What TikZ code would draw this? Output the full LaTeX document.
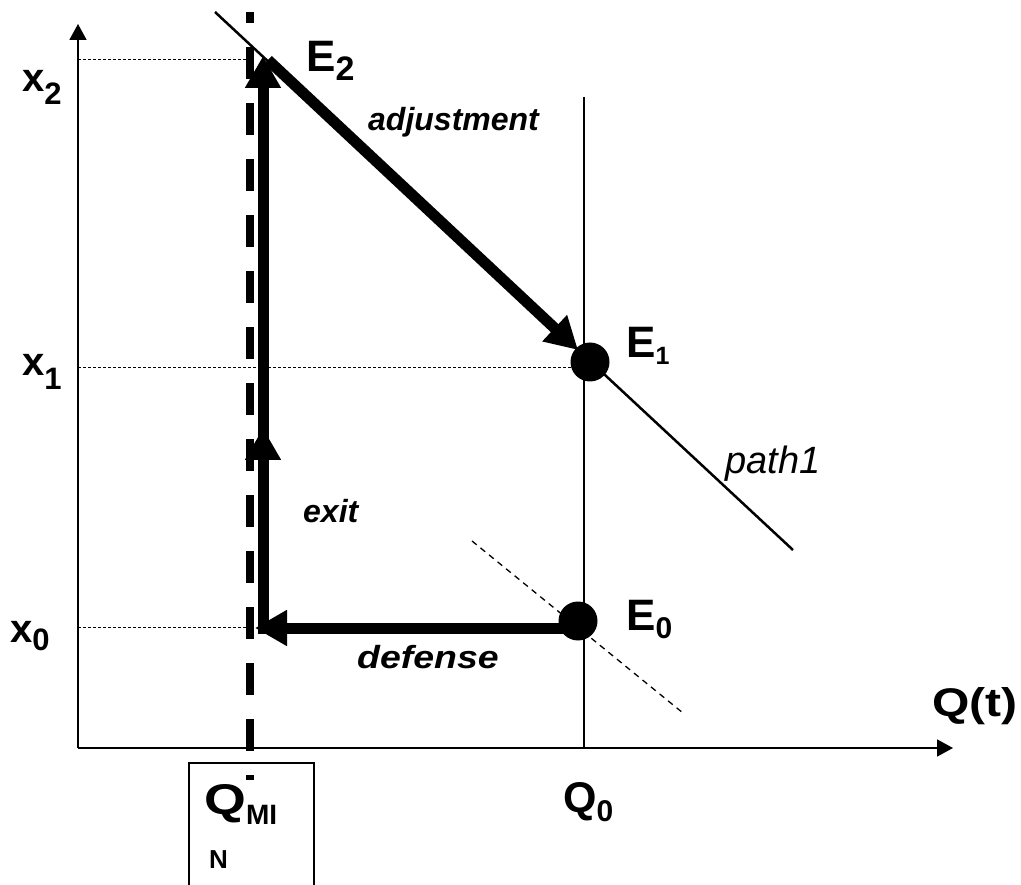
\documentclass[tikz,border=0pt]{standalone}
\usepackage{fontspec}
\setmainfont{Liberation Sans}
\usetikzlibrary{arrows.meta}
% \lowsub{drop}{size}{text}
\newcommand\lowsub[3]{\raisebox{-#1pt}{\fontsize{#2}{#2}\selectfont #3}}
\newcommand\widen[2]{\scalebox{#1}[1]{#2}}
\tikzset{
 lbl/.style={inner sep=0pt, anchor=base west, font=\fontsize{40}{44}\selectfont\bfseries},
 elbl/.style={inner sep=0pt, anchor=base west, font=\fontsize{44}{48}\selectfont\bfseries},
 ital/.style={inner sep=0pt, anchor=base west, font=\fontsize{32}{36}\selectfont\bfseries\itshape},
 plainital/.style={inner sep=0pt, anchor=base west, font=\fontsize{36}{40}\selectfont\itshape},
 axis/.style={line width=1.8pt, -{Triangle[length=16pt,width=17pt]}},
 guide/.style={line width=1pt, dash pattern=on 3pt off 2pt},
 thickarrow/.style={line width=11pt, -{Triangle[length=32pt,width=34pt]}},
 dot/.style={circle, fill=black, minimum size=39pt, inner sep=0pt},
 thinline/.style={line width=2.5pt},
}
\begin{document}
\begin{tikzpicture}[x=1pt,y=-1pt]
\useasboundingbox (0,0) rectangle (1021,885);
% coordinates
\coordinate (O) at (78,748);
\coordinate (ytop) at (78,24);
\coordinate (xend) at (953,748);
\coordinate (x2y) at (78,60);
\coordinate (x1y) at (78,368);
\coordinate (x0y) at (78,627);
\coordinate (m2) at (250,60);
\coordinate (m1) at (575,368);
\coordinate (m0) at (250,627);
\coordinate (qtop) at (584,97);
\coordinate (qbot) at (584,748);
\coordinate (dtop) at (250,12);
\coordinate (dbot) at (250,780);
\coordinate (ptop) at (215,12);
\coordinate (pbot) at (793,550);
\coordinate (ntop) at (472,541);
\coordinate (nbot) at (683,713);
\coordinate (defStart) at (578,628);
\coordinate (defEnd) at (255,628);
\coordinate (exStart) at (263,634);
\coordinate (exMid) at (263,428);
\coordinate (exMid2) at (263,445);
\coordinate (exEnd) at (263,56);
\coordinate (adjStart) at (268,60);
\coordinate (adjEnd) at (578,350);
% guides
\draw[guide] (x2y) -- (m2);
\draw[guide] (x1y) -- (m1);
\draw[guide] (x0y) -- (m0);
% axes
\draw[axis] (O) -- (ytop);
\draw[axis] (O) -- (xend);
% thin vertical at Q0
\draw[line width=1.6pt] (qtop) -- (qbot);
% path line
\draw[thinline] (ptop) -- (pbot);
% dashed line through E0
\draw[line width=1.3pt, dash pattern=on 6pt off 5pt] (ntop) -- (nbot);
% Q_MIN dashed vertical
\draw[line width=8pt, dash pattern=on 32pt off 24pt, dash phase=21pt] (dtop) -- (dbot);
% thick arrows
\draw[thickarrow] (defStart) -- (defEnd);
\draw[thickarrow] (exStart) -- (exMid);
\draw[thickarrow] (exMid2) -- (exEnd);
\draw[thickarrow] (adjStart) -- (adjEnd);
% dots
\node[dot] (E1) at (590,362) {};
\node[dot] (E0) at (578,621) {};
% labels
\node[lbl] (lx2) at (22,92) {x\lowsub{13}{31}{2}};
\node[lbl] (lx1) at (22,376) {x\lowsub{14}{31}{1}};
\node[lbl] (lx0) at (10,642) {x\lowsub{8}{31}{0}};
\node[elbl] (lE2) at (306,72) {E\lowsub{9}{34}{2}};
\node[elbl] (lE1) at (626,358) {E\lowsub{7}{25}{1}};
\node[elbl] (lE0) at (626,630) {E\lowsub{8}{30}{0}};
\node[lbl] (lQt) at (932,716) {\widen{1.2}{Q(t)}};
\node[lbl, font=\fontsize{43}{46}\selectfont\bfseries] (lQ0) at (563,812) {Q\lowsub{9}{30}{0}};
\node[ital] (adj) at (368,131) {adjustment};
\node[ital] (ex) at (303,522) {exit};
\node[ital] (def) at (357,668) {\widen{1.17}{defense}};
\node[plainital, font=\fontsize{38}{42}\selectfont\itshape] (p1) at (725,473) {path1};
% QMIN box
\draw[line width=1.6pt] (189,900) -- (189,763) -- (314,763) -- (314,900);
\node[lbl, font=\fontsize{43}{46}\selectfont\bfseries] (lQmin) at (204,814) {\widen{1.25}{Q}\lowsub{10}{28}{MI}};
\node[inner sep=0pt, anchor=base west, font=\fontsize{26}{30}\selectfont\bfseries] (lN) at (209,868) {N};
\end{tikzpicture}
\end{document}
